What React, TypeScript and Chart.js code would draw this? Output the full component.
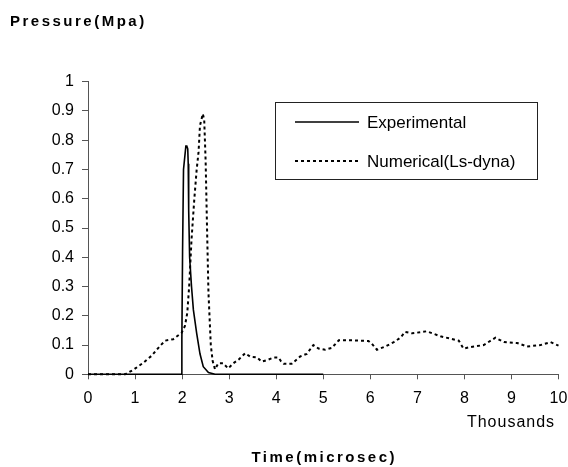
import React, { useEffect, useRef } from "react";
import { Chart, registerables } from "chart.js";

Chart.register(...registerables);

const seriesNames = ["Experimental", "Numerical(Ls-dyna)"];

const expTime = [0, 1.99, 1.995, 2.01, 2.03, 2.08, 2.1, 2.12, 2.13, 2.14, 2.16, 2.2, 2.24, 2.31, 2.38, 2.45, 2.56, 2.7, 5];
const expPressure = [0, 0, 0.12, 0.42, 0.7, 0.78, 0.78, 0.77, 0.72, 0.56, 0.4, 0.3, 0.22, 0.14, 0.07, 0.026, 0.006, 0, 0];

const numTime = [0, 0.79, 0.96, 1.18, 1.35, 1.53, 1.64, 1.81, 1.99, 2.06, 2.11, 2.15, 2.2, 2.26, 2.31, 2.35, 2.38, 2.44, 2.47, 2.5, 2.53, 2.56, 2.61, 2.65, 2.7, 2.77, 2.87, 2.98, 3.09, 3.2, 3.34, 3.45, 3.59, 3.69, 3.83, 3.94, 4.05, 4.1, 4.16, 4.33, 4.51, 4.65, 4.79, 4.9, 5.04, 5.18, 5.33, 5.64, 5.96, 6.03, 6.14, 6.32, 6.5, 6.64, 6.74, 6.89, 7.2, 7.49, 7.7, 7.88, 7.98, 8.13, 8.41, 8.66, 8.84, 9.12, 9.33, 9.62, 9.83, 10];
const numPressure = [0, 0, 0.015, 0.04, 0.063, 0.097, 0.115, 0.12, 0.142, 0.165, 0.21, 0.3, 0.46, 0.6, 0.7, 0.76, 0.85, 0.89, 0.87, 0.73, 0.5, 0.28, 0.1, 0.045, 0.017, 0.038, 0.038, 0.02, 0.038, 0.05, 0.072, 0.06, 0.058, 0.043, 0.05, 0.057, 0.057, 0.045, 0.036, 0.036, 0.061, 0.07, 0.1, 0.088, 0.084, 0.09, 0.116, 0.116, 0.114, 0.105, 0.084, 0.095, 0.11, 0.125, 0.145, 0.14, 0.147, 0.13, 0.122, 0.115, 0.088, 0.093, 0.1, 0.125, 0.11, 0.107, 0.095, 0.1, 0.11, 0.098];

const xTickLabels = ["0", "1", "2", "3", "4", "5", "6", "7", "8", "9", "10"];
const yTickLabels = ["0", "0.1", "0.2", "0.3", "0.4", "0.5", "0.6", "0.7", "0.8", "0.9", "1"];

const yTitle = "Pressure(Mpa)";
const xTitle = "Time(microsec)";
const xUnit = "Thousands";

const FONT = "'Liberation Sans', Arial, Helvetica, sans-serif";

const overlayPlugin = {
  id: "overlay",
  afterDraw(chart: any) {
    const ctx = chart.ctx;
    const area = chart.chartArea;
    ctx.save();
    ctx.fillStyle = "#000";
    ctx.font = `bold 15px ${FONT}`;
    (ctx as any).letterSpacing = "2.5px";
    ctx.textBaseline = "middle";
    ctx.textAlign = "left";
    ctx.fillText(yTitle, 10, 22);
    ctx.textAlign = "center";
    ctx.fillText(xTitle, (area.left + area.right) / 2 + 1, 458);
    (ctx as any).letterSpacing = "1px";
    ctx.font = `16px ${FONT}`;
    ctx.fillText(xUnit, 511, 423);
    (ctx as any).letterSpacing = "0px";

    const lx = 275.5, ly = 102.5, lw = 262, lh = 77;
    ctx.fillStyle = "#fff";
    ctx.fillRect(lx, ly, lw, lh);
    ctx.strokeStyle = "#222";
    ctx.lineWidth = 1;
    ctx.strokeRect(lx, ly, lw, lh);
    const rows = [122, 161];
    chart.data.datasets.forEach((ds: any, i: number) => {
      ctx.beginPath();
      ctx.strokeStyle = "#000";
      ctx.lineWidth = ds.borderWidth;
      ctx.setLineDash(ds.borderDash || []);
      ctx.moveTo(295, rows[i]);
      ctx.lineTo(359, rows[i]);
      ctx.stroke();
      ctx.setLineDash([]);
      ctx.fillStyle = "#000";
      ctx.font = `17px ${FONT}`;
      ctx.textAlign = "left";
      ctx.textBaseline = "middle";
      ctx.fillText(ds.label, 367, rows[i] + 1);
    });
    ctx.restore();
  },
};

export default function App() {
  const ref = useRef<HTMLCanvasElement>(null);
  useEffect(() => {
    document.body.style.margin = "0";
    const canvas = ref.current!;
    const chart = new Chart(canvas, {
      type: "scatter",
      data: {
        datasets: [
          {
            label: seriesNames[0],
            data: expTime.map((t, i) => ({ x: t, y: expPressure[i] })),
            showLine: true,
            borderColor: "#000",
            borderWidth: 1.6,
            pointRadius: 0,
            tension: 0,
            clip: false as any,
            order: 1,
          },
          {
            label: seriesNames[1],
            data: numTime.map((t, i) => ({ x: t, y: numPressure[i] })),
            showLine: true,
            borderColor: "#000",
            borderWidth: 2,
            borderDash: [3, 3],
            pointRadius: 0,
            tension: 0,
            clip: false as any,
            order: 2,
          },
        ],
      },
      options: {
        responsive: false,
        animation: false,
        devicePixelRatio: 1,
        layout: { padding: { left: 0, top: 81.7, right: 9.5, bottom: 0 } },
        plugins: {
          legend: { display: false },
          tooltip: { enabled: false },
          title: { display: false },
        },
        scales: {
          x: {
            type: "linear",
            min: 0,
            max: 10,
            afterFit: (s: any) => {
              s.height = 92.7;
              s.paddingRight = 0;
              s.paddingLeft = 0;
            },
            ticks: {
              stepSize: 1,
              color: "#000",
              padding: 10,
              maxRotation: 0,
              font: { family: FONT, size: 16 },
              callback: (v: any) => xTickLabels[Math.round(Number(v))] ?? "",
            },
            grid: { drawOnChartArea: false, drawTicks: true, tickLength: 5, color: "#555" },
            border: { color: "#555", width: 1 },
          },
          y: {
            type: "linear",
            min: 0,
            max: 1,
            afterFit: (s: any) => {
              s.width = 88;
              s.paddingTop = 0;
              s.paddingBottom = 0;
            },
            ticks: {
              stepSize: 0.1,
              color: "#000",
              padding: 8,
              font: { family: FONT, size: 16 },
              callback: (v: any) => yTickLabels[Math.round(Number(v) * 10)] ?? "",
            },
            grid: { drawOnChartArea: false, drawTicks: true, tickLength: 6, color: "#555" },
            border: { color: "#555", width: 1 },
          },
        },
      },
      plugins: [overlayPlugin],
    });
    return () => chart.destroy();
  }, []);
  return (
    <div style={{ position: "absolute", left: 0, top: 0, width: 568, height: 467, background: "#fff" }}>
      <canvas ref={ref} width={568} height={467} style={{ display: "block" }} />
    </div>
  );
}
